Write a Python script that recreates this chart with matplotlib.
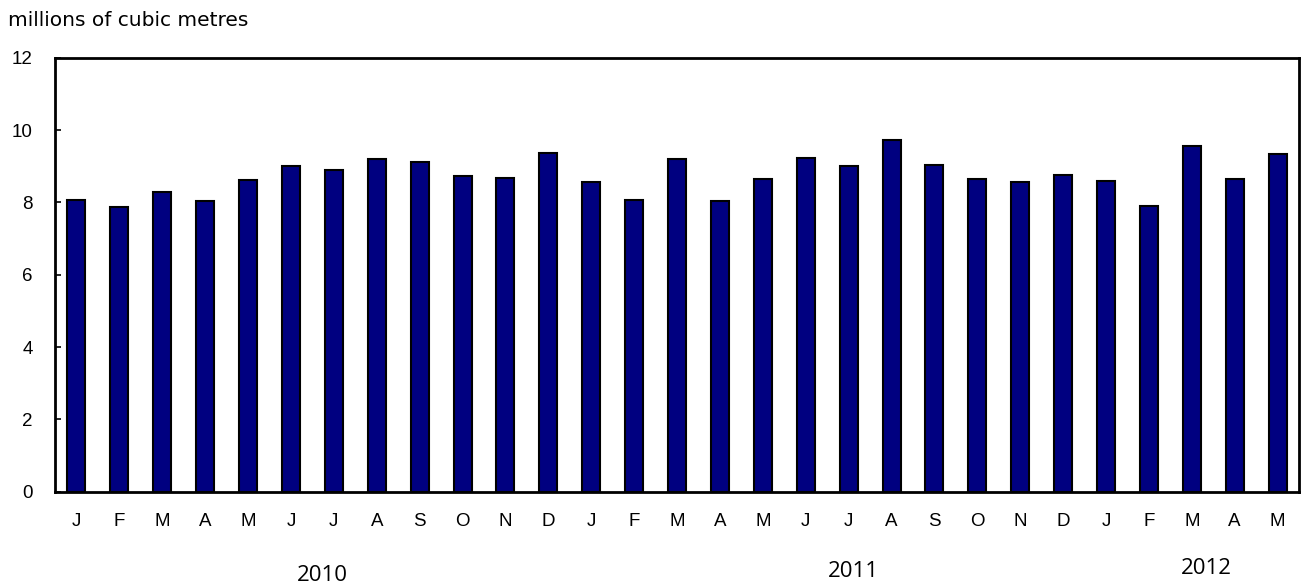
import matplotlib
matplotlib.use('Agg')
import matplotlib.pyplot as plt
import numpy as np

months = ['J', 'F', 'M', 'A', 'M', 'J', 'J', 'A', 'S', 'O', 'N', 'D',
          'J', 'F', 'M', 'A', 'M', 'J', 'J', 'A', 'S', 'O', 'N', 'D',
          'J', 'F', 'M', 'A', 'M']
volumes = [8.07, 7.87, 8.28, 8.03, 8.63, 9.00, 8.89, 9.21, 9.12, 8.72, 8.69, 9.36,
           8.56, 8.08, 9.20, 8.04, 8.66, 9.22, 9.02, 9.72, 9.04, 8.66, 8.56, 8.75,
           8.60, 7.90, 9.56, 8.65, 9.34]
years = ['2010', '2011', '2012']

plt.rcParams['font.family'] = ['Liberation Sans', 'DejaVu Sans']

fig = plt.figure(figsize=(13.01, 5.84), dpi=100)
ax = fig.add_axes([0.0423, 0.158, 0.9562, 0.743])

x = np.arange(len(volumes))
ax.bar(x, volumes, width=0.42, color='#000080', edgecolor='black', linewidth=1.5)

ax.set_xlim(-0.5, len(volumes) - 0.5)
ax.set_ylim(0, 12)
ax.set_yticks(range(0, 13, 2))
ax.set_xticks(x)
ax.set_xticklabels(months, fontsize=13.5)
ax.tick_params(axis='x', length=0, pad=15)
ax.tick_params(axis='y', direction='in', length=4, width=1.2, labelsize=13.5, pad=16)
for s in ax.spines.values():
    s.set_linewidth(2)

fig.text(0.006, 0.965, 'millions of cubic metres', fontsize=14.5, va='center', ha='left',
         family=['DejaVu Sans'])

# year labels under the month axis
for xpos, ypos, yr in [(0.248, 0.0154, years[0]), (0.656, 0.0214, years[1]), (0.927, 0.0265, years[2])]:
    fig.text(xpos, ypos, yr, fontsize=16, ha='center', va='center', family=['Open Sans', 'DejaVu Sans'])

fig.savefig('out.png', dpi=100)
